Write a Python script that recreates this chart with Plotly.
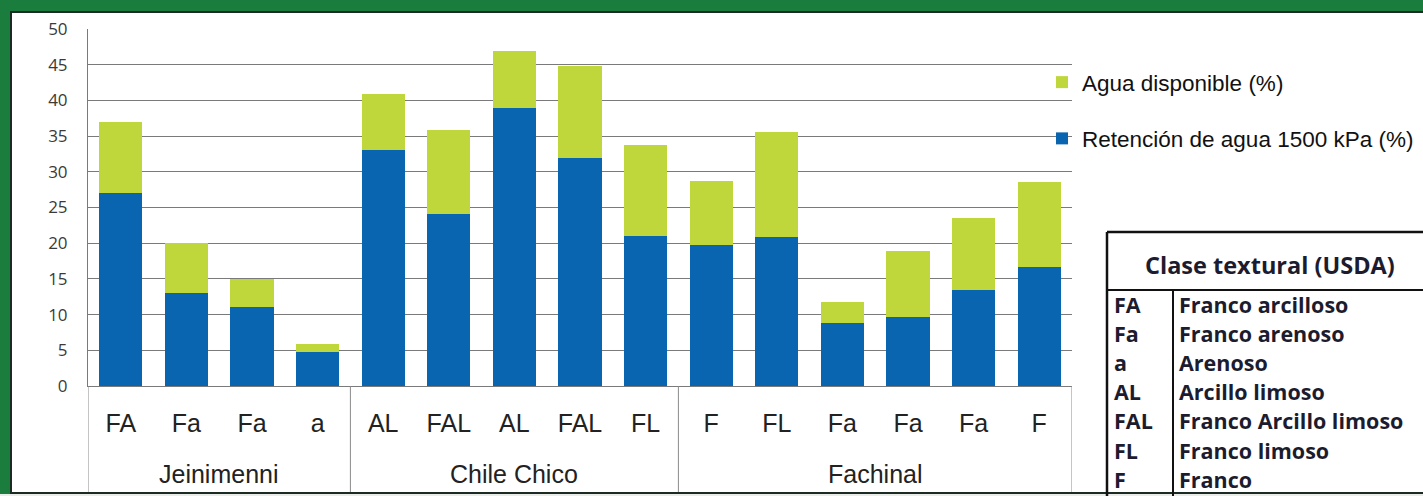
import plotly.graph_objects as go

# Soil water data per sample: site, USDA textural class and percentages
sitios = ["Jeinimenni"] * 4 + ["Chile Chico"] * 5 + ["Fachinal"] * 6
clases = ["FA", "Fa", "Fa", "a",
          "AL", "FAL", "AL", "FAL", "FL",
          "F", "FL", "Fa", "Fa", "Fa", "F"]
retencion = [27.0, 13.0, 11.0, 4.8,
             33.0, 24.1, 38.9, 31.9, 21.0,
             19.8, 20.9, 8.8, 9.7, 13.5, 16.7]
agua = [10.0, 7.0, 4.0, 1.1,
        7.9, 11.7, 8.0, 12.9, 12.7,
        8.9, 14.7, 2.9, 9.2, 10.1, 11.9]
y_ticks = [0, 5, 10, 15, 20, 25, 30, 35, 40, 45, 50]

# Legend table of textural classes
codigos = ["FA", "Fa", "a", "AL", "FAL", "FL", "F"]
nombres = ["Franco arcilloso", "Franco arenoso", "Arenoso", "Arcillo limoso",
           "Franco Arcillo limoso", "Franco limoso", "Franco"]

W, H = 1423, 496
L, R, T, B = 88, 351, 29, 110
PW, PH = W - L - R, H - T - B

BLUE = "#0a65b1"
LIME = "#bfd73a"
GRID = "#7a7a7a"
INK = "#1c1c2e"
LABEL_FONT = "Liberation Sans, Arial, sans-serif"
TABLE_FONT = "Open Sans, Noto Sans, sans-serif"


def fx(px):
    """page pixel x -> paper x"""
    return (px - L) / PW


def fy(py):
    """page pixel y -> paper y"""
    return (H - B - py) / PH


n = len(clases)
pos = list(range(n))

fig = go.Figure()
fig.add_trace(go.Bar(x=pos, y=retencion, name="Retención de agua 1500 kPa (%)",
                     marker=dict(color=BLUE, line=dict(width=0)),
                     legendgroup="r", legendrank=2))
fig.add_trace(go.Bar(x=pos, y=agua, name="Agua disponible (%)",
                     marker=dict(color=LIME, line=dict(width=0)),
                     legendgroup="a", legendrank=1))

shapes = []
# white panel over the green frame
shapes.append(dict(type="rect", xref="paper", yref="paper", layer="below",
                   x0=fx(11), x1=fx(1430), y0=fy(493), y1=fy(12),
                   fillcolor="white", line=dict(color="#1b2a22", width=2)))
shapes.append(dict(type="rect", xref="paper", yref="paper", layer="below",
                   x0=fx(-5), x1=fx(1430), y0=fy(500), y1=fy(494),
                   fillcolor="#e9ece9", line=dict(width=0)))

# site groups: boundaries and centres along the category axis
bounds = [0]
for i in range(1, n):
    if sitios[i] != sitios[i - 1]:
        bounds.append(i)
bounds.append(n)

annotations = []
for b in bounds:
    shapes.append(dict(type="line", xref="x", yref="paper",
                       x0=b - 0.5, x1=b - 0.5, y0=fy(492), y1=0,
                       line=dict(color="#8a8a8a", width=1)))
for b0, b1 in zip(bounds[:-1], bounds[1:]):
    annotations.append(dict(text=sitios[b0], xref="x", yref="paper",
                            x=(b0 + b1 - 1) / 2, y=fy(474), showarrow=False,
                            xanchor="center", yanchor="middle",
                            font=dict(family=LABEL_FONT, size=25, color="#222")))

# textural class table
TX0, TY0 = 1107, 232
shapes.append(dict(type="line", xref="paper", yref="paper",
                   x0=fx(TX0), x1=fx(TX0), y0=fy(500), y1=fy(TY0),
                   line=dict(color="#111", width=2.5)))
shapes.append(dict(type="line", xref="paper", yref="paper",
                   x0=fx(TX0), x1=fx(1430), y0=fy(TY0), y1=fy(TY0),
                   line=dict(color="#111", width=2.5)))
shapes.append(dict(type="line", xref="paper", yref="paper",
                   x0=fx(TX0), x1=fx(1430), y0=fy(290), y1=fy(290),
                   line=dict(color="#111", width=2)))
shapes.append(dict(type="line", xref="paper", yref="paper",
                   x0=fx(1173), x1=fx(1173), y0=fy(500), y1=fy(290),
                   line=dict(color="#111", width=2)))

annotations.append(dict(text="<b>Clase textural (USDA)</b>", xref="paper", yref="paper",
                        x=fx(1270), y=fy(265), showarrow=False, xanchor="center", yanchor="middle",
                        font=dict(family=TABLE_FONT, size=23.5, color=INK)))
for k, (c, nm) in enumerate(zip(codigos, nombres)):
    yy = fy(304 + 29.2 * k)
    annotations.append(dict(text="<b>" + c + "</b>", xref="paper", yref="paper", x=fx(1112), y=yy,
                            showarrow=False, xanchor="left", yanchor="middle",
                            font=dict(family=TABLE_FONT, size=21.5, color=INK)))
    annotations.append(dict(text="<b>" + nm + "</b>", xref="paper", yref="paper", x=fx(1177), y=yy,
                            showarrow=False, xanchor="left", yanchor="middle",
                            font=dict(family=TABLE_FONT, size=21.5, color=INK)))

fig.update_layout(
    width=W, height=H,
    margin=dict(l=L, r=R, t=T, b=B, pad=0, autoexpand=False),
    paper_bgcolor="#1a7d3e",
    plot_bgcolor="white",
    barmode="stack",
    bargap=0.34,
    font=dict(family=LABEL_FONT, color="#222"),
    showlegend=True,
    legend=dict(x=fx(1042), y=fy(61), xanchor="left", yanchor="top",
                traceorder="grouped", tracegroupgap=24,
                bgcolor="rgba(0,0,0,0)",
                font=dict(family=LABEL_FONT, size=22.5, color="#111"),
                itemwidth=30),
    shapes=shapes,
    annotations=annotations,
)
fig.update_xaxes(
    range=[-0.5, n - 0.5],
    tickvals=pos,
    ticktext=clases,
    showgrid=False,
    showline=True, linecolor=GRID, linewidth=1,
    zeroline=False,
    ticks="",
    ticklabelstandoff=15,
    tickfont=dict(family=LABEL_FONT, size=25, color="#222"),
)
fig.update_yaxes(
    range=[0, 50],
    tickvals=y_ticks,
    showgrid=True, gridcolor=GRID, gridwidth=1,
    showline=True, linecolor=GRID, linewidth=1,
    zeroline=False,
    ticks="",
    ticklabelstandoff=16,
    tickfont=dict(family="Open Sans, sans-serif", size=17, color="#3a3a3a"),
)

fig.write_html("out.html")
